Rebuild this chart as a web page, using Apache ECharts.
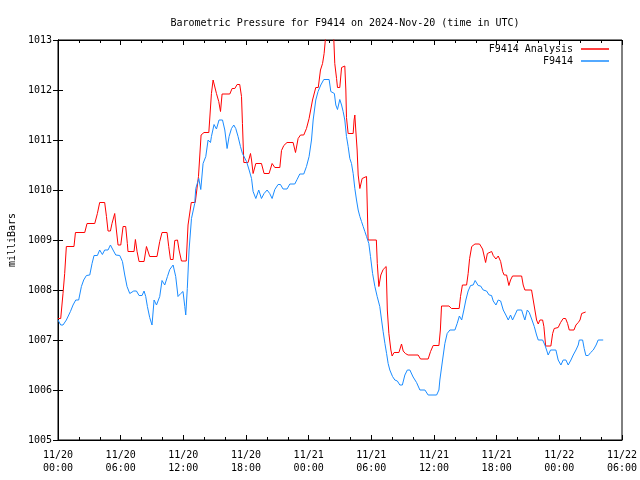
<!DOCTYPE html>
<html>
<head>
<meta charset="utf-8">
<script src="https://cdn.jsdelivr.net/npm/echarts@6/dist/echarts.min.js"></script>
<style>
html,body{margin:0;padding:0;background:#fff;}
#chart{width:640px;height:480px;}
</style>
</head>
<body>
<div id="chart"></div>
<script>
// Hours since 2024-11-20 00:00 UTC and pressure (mbar)
var analysisHours = [0.0,0.26,0.48,0.64,0.80,1.53,1.67,2.56,2.78,3.52,3.77,3.99,4.47,4.64,4.79,5.02,5.17,5.43,5.59,5.75,6.01,6.23,6.48,6.64,6.70,7.28,7.41,7.57,7.76,8.24,8.47,8.78,9.48,9.74,9.96,10.44,10.60,10.77,11.02,11.18,11.44,11.59,11.82,12.28,12.45,12.76,13.14,13.45,13.70,13.98,14.44,14.69,14.85,15.01,15.17,15.39,15.56,15.71,16.45,16.67,16.93,17.15,17.40,17.57,17.66,17.79,18.20,18.43,18.53,18.68,18.94,19.48,19.73,20.21,20.50,20.76,21.24,21.40,21.62,21.93,22.51,22.74,22.99,23.22,23.53,23.79,24.04,24.37,24.68,24.92,25.13,25.33,25.48,25.64,25.83,26.22,26.41,26.50,26.67,26.76,26.98,27.15,27.46,27.56,27.62,27.78,28.26,28.35,28.42,28.51,28.64,28.74,28.90,29.12,29.54,29.62,29.69,30.48,30.57,30.72,30.91,31.13,31.42,31.53,31.68,31.87,31.99,32.18,32.64,32.89,33.05,33.26,33.52,34.48,34.71,35.44,35.67,35.92,36.47,36.61,36.72,37.43,37.68,38.41,38.54,38.72,39.12,39.27,39.41,39.61,39.92,40.36,40.65,40.78,40.94,41.11,41.26,41.52,41.67,41.93,42.15,42.38,42.57,42.72,42.95,43.17,43.33,43.52,44.39,44.54,44.70,45.34,45.50,45.66,45.82,45.98,46.14,46.40,46.52,46.69,47.19,47.36,47.51,47.89,48.12,48.37,48.60,48.79,48.95,49.40,49.59,49.81,49.98,50.14,50.29,50.52];
var analysisValues = [1007.43,1007.43,1007.93,1008.33,1008.87,1008.87,1009.15,1009.15,1009.33,1009.33,1009.53,1009.75,1009.75,1009.47,1009.18,1009.18,1009.33,1009.53,1009.2,1008.9,1008.9,1009.27,1009.27,1008.93,1008.77,1008.77,1009.01,1008.77,1008.57,1008.57,1008.87,1008.67,1008.67,1008.97,1009.15,1009.15,1008.87,1008.61,1008.61,1008.99,1009.0,1008.8,1008.58,1008.58,1009.3,1009.75,1009.75,1010.27,1011.1,1011.15,1011.15,1011.93,1012.2,1012.2,1011.93,1011.77,1011.57,1011.92,1011.92,1012.03,1012.03,1012.11,1012.11,1011.87,1011.33,1010.55,1010.55,1010.73,1010.6,1010.33,1010.53,1010.53,1010.33,1010.33,1010.53,1010.45,1010.45,1010.79,1010.89,1010.95,1010.95,1010.75,1011.03,1011.1,1011.1,1011.23,1011.43,1011.8,1012.05,1012.05,1012.4,1012.53,1012.73,1013.1,1013.3,1013.3,1013.0,1012.53,1012.23,1012.05,1012.05,1012.45,1012.48,1012.0,1011.45,1011.13,1011.13,1011.4,1011.5,1011.2,1010.8,1010.3,1010.03,1010.23,1010.27,1009.6,1009.0,1009.0,1008.53,1008.07,1008.3,1008.41,1008.47,1007.6,1007.13,1006.8,1006.68,1006.75,1006.75,1006.92,1006.78,1006.73,1006.7,1006.7,1006.62,1006.62,1006.77,1006.89,1006.89,1007.2,1007.68,1007.68,1007.63,1007.63,1007.87,1008.1,1008.1,1008.33,1008.63,1008.87,1008.92,1008.92,1008.82,1008.7,1008.55,1008.73,1008.77,1008.77,1008.69,1008.62,1008.68,1008.57,1008.37,1008.3,1008.3,1008.09,1008.2,1008.28,1008.28,1008.1,1008.0,1008.0,1007.8,1007.6,1007.4,1007.32,1007.4,1007.4,1007.27,1006.88,1006.88,1007.13,1007.23,1007.25,1007.35,1007.43,1007.43,1007.33,1007.2,1007.2,1007.3,1007.35,1007.4,1007.53,1007.56,1007.56];

var stationHours = [0.0,0.26,0.48,0.80,0.98,1.19,1.44,1.70,1.98,2.24,2.46,2.72,3.04,3.26,3.45,3.77,3.99,4.25,4.47,4.79,5.02,5.27,5.53,5.91,6.17,6.39,6.61,6.87,7.03,7.25,7.51,7.76,8.05,8.24,8.40,8.56,8.78,9.00,9.20,9.43,9.74,9.96,10.22,10.48,10.70,11.02,11.27,11.49,11.75,11.97,12.14,12.23,12.38,12.55,12.78,13.09,13.19,13.48,13.67,13.89,14.15,14.37,14.60,14.69,14.94,15.17,15.42,15.75,15.97,16.19,16.38,16.61,16.83,17.02,17.24,17.47,17.66,17.84,18.05,18.30,18.53,18.68,18.94,19.22,19.48,19.73,20.02,20.27,20.50,20.76,21.07,21.30,21.55,21.93,22.20,22.67,22.89,23.15,23.53,23.79,24.04,24.27,24.43,24.68,24.90,25.16,25.45,25.96,26.12,26.28,26.46,26.60,26.76,26.98,27.15,27.30,27.46,27.62,27.78,27.94,28.10,28.26,28.42,28.58,28.74,28.90,29.06,29.22,29.38,29.54,29.76,29.92,30.12,30.34,30.56,30.81,30.98,31.13,31.30,31.46,31.61,31.77,32.03,32.25,32.49,32.73,32.97,33.21,33.45,33.69,34.00,34.33,34.65,35.13,35.44,36.25,36.47,36.56,36.82,37.04,37.26,37.52,38.00,38.22,38.43,38.65,38.86,39.05,39.27,39.50,39.75,39.94,40.23,40.46,40.71,41.03,41.28,41.51,41.67,41.93,42.15,42.38,42.63,42.88,43.11,43.33,43.52,43.75,43.97,44.39,44.54,44.70,44.93,45.12,45.35,45.60,45.82,45.98,46.40,46.62,46.78,46.93,47.16,47.67,47.89,48.15,48.37,48.63,48.85,49.11,49.33,49.59,49.81,49.91,50.23,50.38,50.54,50.77,51.00,51.25,51.52,51.72,52.20];
var stationValues = [1007.4,1007.3,1007.3,1007.4,1007.42,1007.57,1007.7,1007.8,1007.8,1008.07,1008.2,1008.29,1008.3,1008.53,1008.69,1008.69,1008.8,1008.71,1008.8,1008.8,1008.9,1008.8,1008.7,1008.69,1008.57,1008.3,1008.07,1007.93,1007.89,1007.98,1007.98,1007.89,1007.89,1007.98,1007.87,1007.67,1007.45,1007.3,1007.8,1007.7,1007.87,1008.19,1008.1,1008.27,1008.41,1008.5,1008.27,1007.87,1007.93,1007.97,1007.67,1007.5,1008.03,1008.8,1009.43,1009.73,1010.03,1010.23,1010.01,1010.53,1010.67,1011.0,1010.95,1011.07,1011.31,1011.22,1011.4,1011.4,1011.2,1010.83,1011.07,1011.23,1011.3,1011.23,1011.07,1010.87,1010.73,1010.75,1010.57,1010.4,1010.23,1009.97,1009.83,1010.0,1009.83,1009.93,1010.0,1009.93,1009.83,1010.01,1010.11,1010.11,1010.02,1010.02,1010.12,1010.12,1010.21,1010.32,1010.32,1010.47,1010.67,1011.0,1011.4,1011.8,1011.97,1012.1,1012.21,1012.21,1011.97,1011.95,1011.93,1011.7,1011.61,1011.81,1011.7,1011.57,1011.4,1011.07,1010.87,1010.63,1010.53,1010.33,1010.03,1009.8,1009.6,1009.47,1009.37,1009.27,1009.17,1009.07,1008.93,1008.67,1008.33,1008.07,1007.87,1007.67,1007.4,1007.17,1006.93,1006.73,1006.53,1006.4,1006.27,1006.2,1006.18,1006.1,1006.1,1006.3,1006.4,1006.4,1006.26,1006.15,1006.0,1006.0,1005.9,1005.9,1006.0,1006.2,1006.6,1006.93,1007.13,1007.2,1007.2,1007.33,1007.48,1007.4,1007.6,1007.8,1007.98,1008.09,1008.1,1008.19,1008.09,1008.08,1008.0,1007.98,1007.9,1007.89,1007.78,1007.7,1007.8,1007.78,1007.6,1007.5,1007.4,1007.5,1007.4,1007.5,1007.6,1007.6,1007.5,1007.4,1007.6,1007.55,1007.42,1007.27,1007.1,1007.0,1007.0,1006.9,1006.8,1006.7,1006.8,1006.8,1006.6,1006.5,1006.6,1006.6,1006.5,1006.6,1006.7,1006.8,1006.9,1007.0,1007.0,1006.83,1006.69,1006.69,1006.75,1006.8,1006.9,1007.0,1007.0];

var xTickLabels = ["11/20\n00:00","11/20\n06:00","11/20\n12:00","11/20\n18:00","11/21\n00:00","11/21\n06:00","11/21\n12:00","11/21\n18:00","11/22\n00:00","11/22\n06:00"];
var seriesNames = ["F9414 Analysis","F9414"];

function zip(a, b) { return a.map(function (v, i) { return [v, b[i]]; }); }

var FONT = "DejaVu Sans Mono";
var chart = echarts.init(document.getElementById('chart'), null, {renderer: 'canvas'});

var xBase = {
  type: 'value', min: 0, max: 54, interval: 6,
  splitLine: {show: false},
  axisLine: {show: true, lineStyle: {color: '#000', width: 1}},
  axisTick: {show: true, inside: true, length: 5, lineStyle: {color: '#000'}},
  minorTick: {show: true, splitNumber: 3, length: 3, lineStyle: {color: '#000'}}
};
var yBase = {
  type: 'value', min: 1005, max: 1013, interval: 1,
  splitLine: {show: false},
  axisLine: {show: true, lineStyle: {color: '#000', width: 1}},
  axisTick: {show: true, inside: true, length: 5, lineStyle: {color: '#000'}}
};

chart.setOption({
  animation: false,
  backgroundColor: '#fff',
  title: {
    text: 'Barometric Pressure for F9414 on 2024-Nov-20 (time in UTC)',
    left: 340, top: 13, textAlign: 'center',
    textStyle: {fontFamily: FONT, fontSize: 10, fontWeight: 'normal', color: '#000'}
  },
  legend: [
    {data: [seriesNames[0]], right: 31, top: 44, padding: 0, align: 'right', icon: 'rect', itemWidth: 28, itemHeight: 1.5,
     textStyle: {fontFamily: FONT, fontSize: 10, color: '#000', padding: [0, 3, 0, 0]}},
    {data: [seriesNames[1]], right: 31, top: 56, padding: 0, align: 'right', icon: 'rect', itemWidth: 28, itemHeight: 1.5,
     textStyle: {fontFamily: FONT, fontSize: 10, color: '#000', padding: [0, 3, 0, 0]}}
  ],
  grid: {left: 58, right: 18, top: 40, bottom: 40, containLabel: false, outerBoundsMode: 'none',
         show: true, borderColor: '#000', borderWidth: 1, backgroundColor: 'transparent'},
  xAxis: [
    Object.assign({}, xBase, {
      position: 'bottom',
      axisLabel: {
        color: '#000', fontFamily: FONT, fontSize: 10, margin: 9, lineHeight: 13,
        formatter: function (v) { return xTickLabels[Math.round(v / 6)] || ''; }
      }
    }),
    Object.assign({}, xBase, {position: 'top', axisLabel: {show: false}})
  ],
  yAxis: [
    Object.assign({}, yBase, {
      position: 'left',
      name: 'milliBars', nameLocation: 'middle', nameGap: 40, nameRotate: 90,
      nameTextStyle: {fontFamily: FONT, fontSize: 10, color: '#000'},
      axisLabel: {color: '#000', fontFamily: FONT, fontSize: 10, margin: 6,
                  formatter: function (v) { return String(v); }}
    }),
    Object.assign({}, yBase, {position: 'right', axisLabel: {show: false}})
  ],
  series: [
    {name: seriesNames[0], type: 'line', data: zip(analysisHours, analysisValues), showSymbol: false, symbol: 'none', clip: true,
     color: '#ff0000', lineStyle: {color: '#ff0000', width: 1}, xAxisIndex: 0, yAxisIndex: 0},
    {name: seriesNames[1], type: 'line', data: zip(stationHours, stationValues), showSymbol: false, symbol: 'none', clip: true,
     color: '#1a8cff', lineStyle: {color: '#1a8cff', width: 1}, xAxisIndex: 0, yAxisIndex: 0}
  ]
});
</script>
</body>
</html>
